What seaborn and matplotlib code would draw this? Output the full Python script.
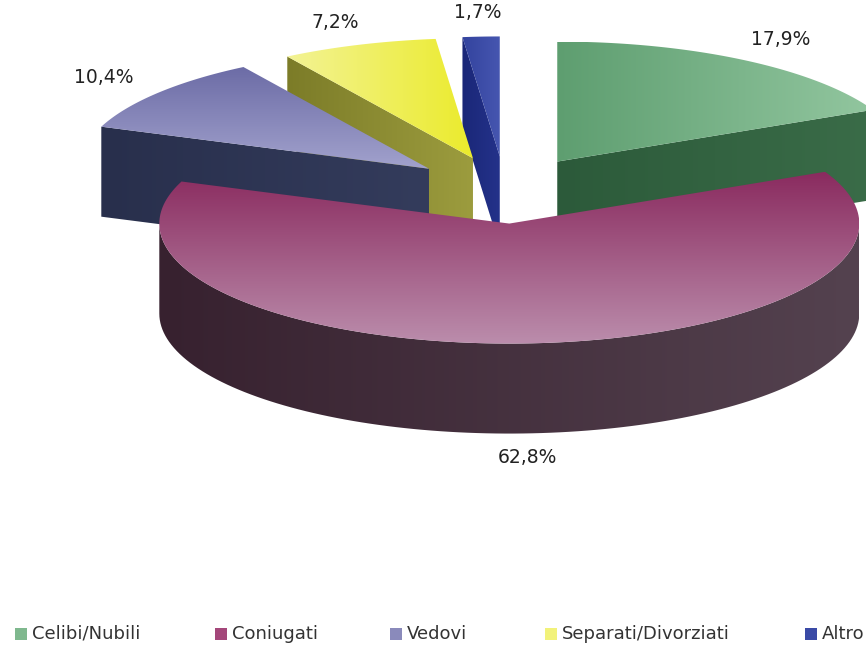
import numpy as np
import matplotlib
matplotlib.use("Agg")
import matplotlib.pyplot as plt
from matplotlib.patches import Polygon, Rectangle
from matplotlib.colors import LinearSegmentedColormap
import seaborn as sns

# Marital status shares (percent)
categories = ["Celibi/Nubili", "Coniugati", "Vedovi", "Separati/Divorziati", "Altro"]
shares = [17.9, 62.8, 10.4, 7.2, 1.7]

# Colours: top face gradient (start, end, direction), side colour pair, legend swatch
top_colors = [("#5e9e70", "#92c69f", "h"), ("#8a2b5f", "#bb8dac", "v"),
              ("#6c6ca6", "#a2a2cd", "v"), ("#f3f395", "#ebeb2c", "h"),
              ("#33439e", "#4656b0", "h")]
side_colors = [("#2c5a3a", "#3a6c48"), ("#37212f", "#54424f"),
               ("#282f4c", "#343c5c"), ("#7c7c28", "#9c9c3e"),
               ("#1a2778", "#24328a")]
legend_colors = ["#7fb88e", "#a4477a", "#8a8abb", "#f2f27a", "#3a4aa6"]

sns.set_theme(style="white")
plt.rcParams["font.family"] = ["DejaVu Sans"]

W, H = 866, 648
fig = plt.figure(figsize=(W / 100, H / 100), dpi=100)
ax = fig.add_axes([0, 0, 1, 1])

CX, CY = 505.0, 190.0      # pie centre
RX, RY = 350.0, 120.0      # ellipse radii of the top face
DEPTH = 90.0               # thickness of the pie
EXPLODE = 0.28             # explosion as fraction of radius


def ell(cx, cy, ang_deg, r=1.0):
    a = np.radians(ang_deg)
    return cx + RX * r * np.cos(a), cy - RY * r * np.sin(a)


def grad_fill(xy, c1, c2, direction, z):
    xy = np.asarray(xy)
    poly = Polygon(xy, closed=True, facecolor="none", edgecolor="none")
    ax.add_patch(poly)
    cmap = LinearSegmentedColormap.from_list("g", [c1, c2])
    if direction == "v":
        arr = np.linspace(0, 1, 256).reshape(-1, 1)
    else:
        arr = np.linspace(0, 1, 256).reshape(1, -1)
    x0, x1 = xy[:, 0].min(), xy[:, 0].max()
    y0, y1 = xy[:, 1].min(), xy[:, 1].max()
    im = ax.imshow(arr, cmap=cmap, extent=(x0, x1, y1, y0), origin="upper",
                   aspect="auto", zorder=z, interpolation="bilinear")
    im.set_clip_path(poly)


# slice geometry
slices = []
start = 90.0
for i, v in enumerate(shares):
    sweep = v / sum(shares) * 360.0
    a0, a1 = start, start - sweep
    mid = (a0 + a1) / 2
    vx, vy = ell(CX, CY, mid, EXPLODE)
    slices.append(dict(i=i, a0=a0, a1=a1, mid=mid, vx=vx, vy=vy))
    start = a1

# back-to-front drawing order
order = sorted(slices, key=lambda s: s["vy"])
for rank, s in enumerate(order):
    i, a0, a1, vx, vy = s["i"], s["a0"], s["a1"], s["vx"], s["vy"]
    z = 2 + rank
    sc1, sc2 = side_colors[i]

    # radial cut faces
    for ang, normal in ((a0, a0 + 90), (a1, a1 - 90)):
        if np.sin(np.radians(normal)) < -0.01:
            ex, ey = ell(vx, vy, ang)
            quad = [(vx, vy), (ex, ey), (ex, ey + DEPTH), (vx, vy + DEPTH)]
            grad_fill(quad, sc1, sc2, "h", z + 0.1)

    # curved outer wall (front half only)
    for k in (-1, 0, 1):
        lo = max(a1, -180 + 360 * k)
        hi = min(a0, 0 + 360 * k)
        if lo < hi:
            angs = np.linspace(hi, lo, 120)
            xs, ys = ell(vx, vy, angs)
            wall = np.vstack([np.column_stack([xs, ys]),
                              np.column_stack([xs[::-1], ys[::-1] + DEPTH])])
            grad_fill(wall, sc1, sc2, "h", z + 0.2)

    # top face
    angs = np.linspace(a0, a1, 200)
    xs, ys = ell(vx, vy, angs)
    top = np.vstack([[vx, vy], np.column_stack([xs, ys])])
    c1, c2, d = top_colors[i]
    grad_fill(top, c1, c2, d, z + 0.3)

# percentage labels
for s in slices:
    lx, ly = ell(s["vx"], s["vy"], s["mid"], 1.2)
    if np.sin(np.radians(s["mid"])) < 0:
        ly += DEPTH
    txt = f"{shares[s['i']]:.1f}%".replace(".", ",")
    ax.text(lx, ly, txt, ha="center", va="center", fontsize=13.5,
            color="#222222", zorder=20)

# legend row along the bottom
legend_x = [15, 215, 390, 545, 805]
for x, lab, col in zip(legend_x, categories, legend_colors):
    ax.add_patch(Rectangle((x, 628), 12, 12, facecolor=col, edgecolor="none", zorder=20))
    ax.text(x + 17, 634, lab, ha="left", va="center", fontsize=13,
            color="#333333", zorder=20)

ax.set_xlim(0, W)
ax.set_ylim(H, 0)
ax.axis("off")
fig.savefig("out.png", dpi=100, facecolor="white")
